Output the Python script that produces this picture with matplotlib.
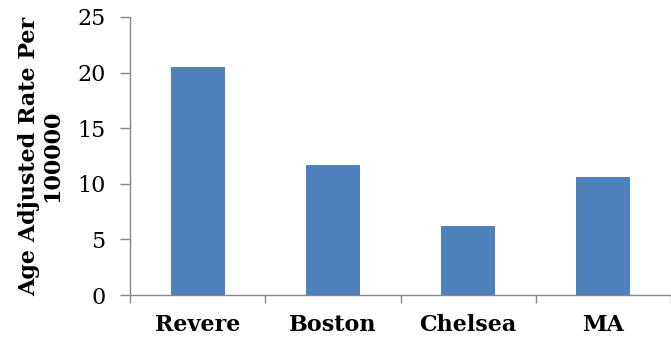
import matplotlib
matplotlib.use("Agg")
import matplotlib.pyplot as plt

# Age adjusted rate per 100000 by area
areas = ["Revere", "Boston", "Chelsea", "MA"]
rates = [20.5, 11.7, 6.2, 10.6]
y_ticks = [0, 5, 10, 15, 20, 25]

fig = plt.figure(figsize=(6.71, 3.43), dpi=100)
ax = fig.add_axes([130 / 671, 48 / 343, 1 - 130 / 671, 278 / 343])

x = range(len(areas))
ax.bar(x, rates, width=0.4, color="#4F81BD")

ax.set_ylim(0, 25)
ax.set_xlim(-0.5, 3.45)
ax.set_yticks(y_ticks)
ax.set_yticklabels([str(t) for t in y_ticks], family="DejaVu Serif", fontsize=16)

# category labels at bar centres, tick marks between categories
ax.set_xticks(list(x))
ax.set_xticklabels(areas, family="DejaVu Serif", fontweight="bold", fontsize=16)
ax.set_xticks([-0.5, 0.5, 1.5, 2.5, 3.5], minor=True)
ax.tick_params(axis="x", which="major", length=0, pad=14)
ax.tick_params(axis="x", which="minor", length=6, width=1.0, color="#868686", direction="out")
ax.tick_params(axis="y", length=7, width=1.0, color="#868686", pad=10.5)

for side in ["top", "right"]:
    ax.spines[side].set_visible(False)
for side in ["left", "bottom"]:
    ax.spines[side].set_color("#868686")
    ax.spines[side].set_linewidth(1.0)

ax.set_ylabel("Age Adjusted Rate Per\n100000", family="DejaVu Serif",
              fontweight="bold", fontsize=16, linespacing=1.05)
ax.yaxis.set_label_coords(-0.124, 0.5)

fig.savefig("out.png", dpi=100)
